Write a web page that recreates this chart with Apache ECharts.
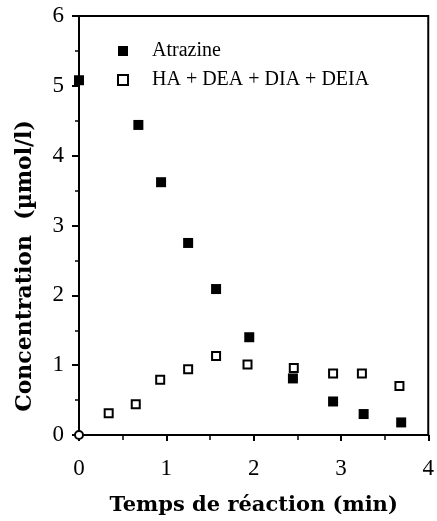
<!DOCTYPE html>
<html><head><meta charset="utf-8">
<script src="https://cdn.jsdelivr.net/npm/echarts@6/dist/echarts.min.js"></script>
<style>html,body{margin:0;padding:0;background:#fff}#c{width:437px;height:521px}</style>
</head><body><div id="c"></div>
<script>
const atrazineX = [0, 0.68, 0.94, 1.25, 1.57, 1.95, 2.45, 2.91, 3.26, 3.69];
const atrazineY = [5.08, 4.44, 3.62, 2.75, 2.09, 1.40, 0.81, 0.48, 0.30, 0.18];
const productsX = [0.34, 0.65, 0.93, 1.25, 1.57, 1.93, 2.46, 2.91, 3.24, 3.67];
const productsY = [0.31, 0.44, 0.79, 0.94, 1.13, 1.01, 0.96, 0.88, 0.88, 0.70];
const originX = [0];
const originY = [0];
const xTicks = ['0','1','2','3','4'];
const yTicks = ['0','1','2','3','4','5','6'];
const xTitle = 'Temps de réaction (min)';
const yTitle = 'Concentration  (µmol/l)';

const pairs = (xs, ys) => xs.map((x, i) => [x, ys[i]]);
const serif = '"Liberation Serif", "DejaVu Serif", serif';
const boldSerif = '"DejaVu Serif", "Liberation Serif", serif';
const chart = echarts.init(document.getElementById('c'));
chart.setOption({
  animation: false,
  backgroundColor: '#fff',
  grid: { left: 79, right: 6, top: 16, bottom: 82, show: true, borderColor: '#000', borderWidth: 2 },
  legend: {
    orient: 'vertical', left: 112, top: 36, itemGap: 9, itemWidth: 10, itemHeight: 10,
    textStyle: { fontFamily: serif, fontSize: 20, color: '#000', padding: [0, 0, 0, 19] },
    data: ['Atrazine', 'HA + DEA + DIA + DEIA']
  },
  graphic: [{
    type: 'text', x: 25, y: 266, rotation: Math.PI / 2,
    style: { text: yTitle, fontFamily: boldSerif, fontSize: 22, fontWeight: 'bold', fill: '#000',
      align: 'center', verticalAlign: 'middle' }
  }],
  xAxis: {
    type: 'value', min: 0, max: 4, interval: 1,
    axisLine: { lineStyle: { color: '#000', width: 2 } },
    axisTick: { inside: false, length: 6, lineStyle: { color: '#000', width: 2 } },
    minorTick: { show: true, splitNumber: 2, length: 5, lineStyle: { color: '#000', width: 1.5 } },
    splitLine: { show: false },
    axisLabel: { fontFamily: serif, fontSize: 23, color: '#000', margin: 22,
      formatter: v => xTicks[Math.round(v)] },
    name: xTitle, nameLocation: 'middle', nameGap: 60,
    nameTextStyle: { fontFamily: boldSerif, fontSize: 21, fontWeight: 'bold', color: '#000' }
  },
  yAxis: {
    type: 'value', min: 0, max: 6, interval: 1,
    axisLine: { lineStyle: { color: '#000', width: 2 } },
    axisTick: { inside: false, length: 7, lineStyle: { color: '#000', width: 2 } },
    minorTick: { show: true, splitNumber: 2, length: 4, lineStyle: { color: '#000', width: 1.5 } },
    splitLine: { show: false },
    axisLabel: { fontFamily: serif, fontSize: 23, color: '#000', margin: 15,
      formatter: v => yTicks[Math.round(v)] }
  },
  series: [
    { name: 'Atrazine', type: 'scatter', symbol: 'rect', symbolSize: 10,
      itemStyle: { color: '#000', opacity: 1 }, data: pairs(atrazineX, atrazineY), z: 3 },
    { name: 'HA + DEA + DIA + DEIA', type: 'scatter', symbol: 'rect', symbolSize: 8,
      itemStyle: { color: '#fff', borderColor: '#000', borderWidth: 2, opacity: 1 },
      data: pairs(productsX, productsY), z: 4 },
    { name: 'origin', type: 'scatter', symbol: 'circle', symbolSize: 8,
      itemStyle: { color: '#fff', borderColor: '#000', borderWidth: 2, opacity: 1 },
      data: pairs(originX, originY), z: 5 }
  ]
});
</script></body></html>
